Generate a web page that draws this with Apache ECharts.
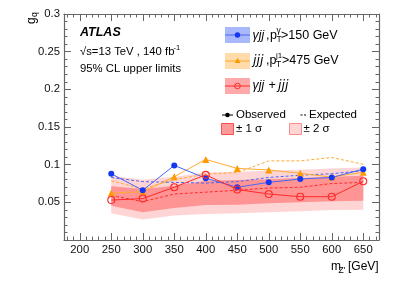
<!DOCTYPE html>
<html>
<head>
<meta charset="utf-8">
<script src="https://cdn.jsdelivr.net/npm/echarts@6/dist/echarts.min.js"></script>
<style>html,body{margin:0;padding:0;background:#fff}#c{width:399px;height:286px}</style>
</head>
<body>
<div id="c"></div>
<script>
// ---- data ----
const masses   = [250, 300, 350, 400, 450, 500, 550, 600, 650];
const obsGjj   = [0.088, 0.066, 0.099, 0.082, 0.070, 0.0765, 0.081, 0.083, 0.094];
const obsJjj   = [0.0625, 0.064, 0.084, 0.107, 0.095, 0.093, 0.0885, 0.0835, 0.090];
const obsComb  = [0.053, 0.055, 0.070, 0.0865, 0.067, 0.061, 0.0575, 0.0575, 0.078];
const expGjj   = [0.083, 0.0775, 0.0765, 0.0755, 0.0775, 0.083, 0.086, 0.088, 0.092];
const expJjj   = [0.0785, 0.068, 0.080, 0.0875, 0.0895, 0.105, 0.105, 0.1095, 0.1005];
const expComb  = [0.059, 0.051, 0.061, 0.0635, 0.066, 0.069, 0.070, 0.075, 0.0765];
const band1Lo  = [0.0456, 0.0368, 0.0425, 0.0465, 0.0469, 0.0487, 0.050, 0.0514, 0.0522];
const band1Hi  = [0.0712, 0.0676, 0.072, 0.0786, 0.0795, 0.0808, 0.0822, 0.0839, 0.0852];
const band2Lo  = [0.0355, 0.0271, 0.0324, 0.0346, 0.0355, 0.0368, 0.0382, 0.0399, 0.0403];
const band2Hi  = [0.0852, 0.080, 0.0839, 0.0897, 0.0905, 0.0918, 0.0931, 0.095, 0.0963];
const xTickLabels = [200, 250, 300, 350, 400, 450, 500, 550, 600, 650];
const yTickLabels = [0.05, 0.1, 0.15, 0.2, 0.25, 0.3];

// ---- styling ----
const FF = '"Liberation Sans", Arial, sans-serif';
const AX = '#666';
const BLUE = '#1438f0', BLUE_L = '#4a66f2';
const ORANGE = '#ff9a00', ORANGE_L = '#ffaa33';
const RED = '#ff2a2a';
const BAND1 = '#ff9494', BAND2 = '#ffd4d4';

const xMinor = [];
for (let v = 180; v <= 670; v += 10) xMinor.push(v);

const pair = ys => masses.map((m, i) => [m, ys[i]]);

function bandSeries(lo, hi, color) {
  return {
    type: 'custom', xAxisIndex: 0, yAxisIndex: 0, silent: true, z: 1,
    data: masses.map((m, i) => [m, lo[i], hi[i]]),
    renderItem: function (params, api) {
      if (params.dataIndex !== 0) return null;
      const pts = [];
      masses.forEach((m, i) => pts.push(api.coord([m, hi[i]])));
      for (let i = masses.length - 1; i >= 0; i--) pts.push(api.coord([masses[i], lo[i]]));
      return { type: 'polygon', shape: { points: pts }, style: { fill: color, stroke: null } };
    }
  };
}

function lineSeries(ys, color, opts) {
  return Object.assign({
    type: 'line', xAxisIndex: 0, yAxisIndex: 0, data: pair(ys),
    lineStyle: { color: color, width: 1 }, itemStyle: { color: color },
    symbol: 'none', z: 3, silent: true
  }, opts);
}

// ---- graphic texts / legend ----
const G = [];
function T(x, y, text, size, o) {
  o = o || {};
  G.push({ type: 'text', x: x, y: y, z: 100, silent: true,
    style: { text: text, fill: '#000', align: o.align || 'left', verticalAlign: 'middle',
      font: (o.style || '') + ' ' + (o.weight || '') + ' ' + size + 'px ' + (o.family || FF) } });
}
function R(x, y, w, h, fill, stroke) {
  G.push({ type: 'rect', z: 99, silent: true, shape: { x: x, y: y, width: w, height: h },
    style: { fill: fill, stroke: stroke || null, lineWidth: 1 } });
}
function L(x1, y1, x2, y2, color, dash) {
  G.push({ type: 'line', z: 100, silent: true, shape: { x1: x1, y1: y1, x2: x2, y2: y2 },
    style: { stroke: color, lineWidth: 1, lineDash: dash || null } });
}
function C(cx, cy, r, fill, stroke) {
  G.push({ type: 'circle', z: 101, silent: true, shape: { cx: cx, cy: cy, r: r },
    style: { fill: fill, stroke: stroke || null, lineWidth: 1 } });
}

// ATLAS label block
T(80, 33, 'ATLAS', 12.5, { style: 'italic', weight: 'bold' });
T(80, 52, '√s=13 TeV , 140 fb', 11.3);
T(173.5, 48, '-1', 7.5);
T(80, 69, '95% CL upper limits', 11.3);

// legend rows
R(225, 27, 25, 16, '#a9b8fb');
L(225, 35, 250, 35, BLUE_L); C(237.5, 35, 2.7, BLUE);
T(252.5, 36, 'γjj', 12.3, { style: 'italic' });
T(266, 36, ',', 12.5); T(270, 36, 'p', 12.5);
T(276.5, 30.5, 'γ', 8.5); T(276.5, 39.5, 'T', 8.5);
T(281, 36, '>150 GeV', 12.5);

R(225, 53, 25, 16, '#ffdcaa');
L(225, 61, 250, 61, ORANGE_L);
G.push({ type: 'polygon', z: 101, silent: true, shape: { points: [[237.5, 57.8], [240.5, 63], [234.5, 63]] }, style: { fill: ORANGE } });
T(253, 61, 'jjj', 12.5, { style: 'italic', family: '"DejaVu Sans", sans-serif' });
T(266, 61, ',', 12.5); T(269.5, 61, 'p', 12.5);
T(276, 56, 'j1', 8); T(276, 65, 'T', 8.5);
T(282, 61, '>475 GeV', 12.5);

R(225, 78, 25, 16, '#ffaaaa');
L(225, 86, 250, 86, RED); C(237.5, 86, 2.8, 'rgba(0,0,0,0)', RED);
T(252.5, 86, 'γjj', 12.3, { style: 'italic' });
T(268.5, 86, '+', 12.5);
T(278, 86, 'jjj', 12.5, { style: 'italic', family: '"DejaVu Sans", sans-serif' });

L(222, 115, 233, 115, '#000'); C(227.5, 115, 2.3, '#000');
T(236, 115, 'Observed', 11.5);
L(300.5, 115, 307, 115, '#000', [2, 1.5]);
T(309, 115, 'Expected', 11.5);

R(221.5, 123.5, 12, 11, '#ff9a9a', '#ff5050');
T(236, 129, '± 1 σ', 11.5);
R(289.5, 123.5, 12, 11, '#ffd6d6', '#ff8c8c');
T(303.5, 129, '± 2 σ', 11.5);

// axis titles
G.push({ type: 'group', x: 31.5, y: 24, rotation: Math.PI / 2, z: 100, silent: true, children: [
  { type: 'text', x: 0, y: 0, style: { text: 'g', font: '12px ' + FF, fill: '#000', verticalAlign: 'middle' } },
  { type: 'text', x: 7, y: 3, style: { text: 'q', font: '8.5px ' + FF, fill: '#000', verticalAlign: 'middle' } }
]});
T(331, 267, 'm', 12);
T(338.5, 270.5, "Z'", 8.5);
T(348, 267, '[GeV]', 12);

function xAxisDef(pos, major) {
  return {
    type: 'value', min: 175, max: 675, position: pos,
    axisLine: { show: major, onZero: false, lineStyle: { color: AX, width: 1.2 } },
    axisTick: { show: true, inside: true, length: major ? 7 : 3.5, customValues: major ? xTickLabels : xMinor, lineStyle: { color: AX, width: 1 } },
    axisLabel: (pos === 'bottom' && major) ? { show: true, customValues: xTickLabels, fontSize: 11.3, fontFamily: FF, color: '#111', margin: 4 } : { show: false },
    splitLine: { show: false }
  };
}
function yAxisDef(pos) {
  return {
    type: 'value', min: 0, max: 0.3, interval: 0.05, position: pos,
    axisLine: { show: true, onZero: false, lineStyle: { color: AX, width: 1.2 } },
    axisTick: { show: true, inside: true, length: 7, lineStyle: { color: AX } },
    minorTick: { show: true, splitNumber: 5, length: 3.5, lineStyle: { color: AX } },
    axisLabel: pos === 'left' ? { show: true, showMinLabel: false, fontSize: 11.3, fontFamily: FF, color: '#111', margin: 4,
      formatter: v => { const f = yTickLabels.find(t => Math.abs(t - v) < 1e-9); return f === undefined ? '' : String(f); } } : { show: false },
    splitLine: { show: false }, minorSplitLine: { show: false }
  };
}

const option = {
  animation: false,
  backgroundColor: '#fff',
  grid: { left: 64, right: 20, top: 14, bottom: 46, containLabel: false, outerBoundsMode: 'none' },
  xAxis: [xAxisDef('bottom', true), xAxisDef('bottom', false), xAxisDef('top', true), xAxisDef('top', false)],
  yAxis: [yAxisDef('left'), yAxisDef('right')],
  series: [
    bandSeries(band2Lo, band2Hi, BAND2),
    bandSeries(band1Lo, band1Hi, BAND1),
    lineSeries(expJjj, ORANGE_L, { lineStyle: { color: ORANGE_L, width: 1, type: [3, 2] } }),
    lineSeries(expGjj, BLUE_L, { lineStyle: { color: BLUE_L, width: 1, type: [3, 2] } }),
    lineSeries(expComb, RED, { lineStyle: { color: RED, width: 1, type: [3, 2] } }),
    lineSeries(obsJjj, ORANGE_L, { symbol: 'triangle', symbolSize: 7, itemStyle: { color: ORANGE }, z: 4 }),
    lineSeries(obsGjj, BLUE_L, { symbol: 'circle', symbolSize: 6, itemStyle: { color: BLUE }, z: 5 }),
    lineSeries(obsComb, RED, { symbol: 'circle', symbolSize: 7, itemStyle: { color: 'rgba(0,0,0,0)', borderColor: RED, borderWidth: 1.1 }, z: 6 })
  ],
  graphic: G
};

const chart = echarts.init(document.getElementById('c'), null, { renderer: 'canvas' });
chart.setOption(option);
</script>
</body>
</html>
